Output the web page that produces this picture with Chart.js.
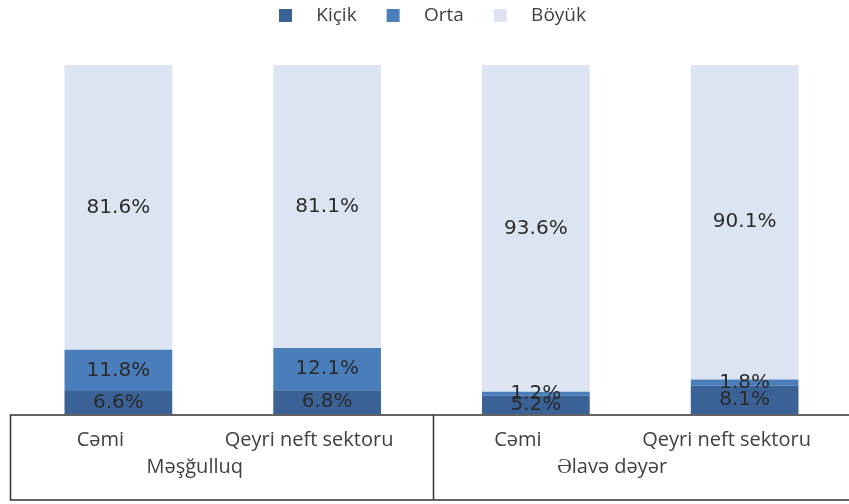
<!DOCTYPE html>
<html>
<head>
<meta charset="utf-8">
<script src="https://cdn.jsdelivr.net/npm/chart.js@4/dist/chart.umd.min.js"></script>
<style>
html,body{margin:0;padding:0;background:#fff;}
#wrap{width:849px;height:504px;position:relative;}
</style>
</head>
<body>
<div id="wrap"><canvas id="c" width="849" height="504"></canvas></div>
<script>
const categories = ["Cəmi", "Qeyri neft sektoru", "Cəmi", "Qeyri neft sektoru"];
const groups = ["Məşğulluq", "Əlavə dəyər"];
const seriesNames = ["Kiçik", "Orta", "Böyük"];
const kicik = [6.6, 6.8, 5.2, 8.1];
const orta = [11.8, 12.1, 1.2, 1.8];
const boyuk = [81.6, 81.1, 93.6, 90.1];
const colors = ["#3a6297", "#4a7ebb", "#dbe4f0"];

const legendMargin = {
  id: 'legendMargin',
  beforeInit(chart) {
    const orig = chart.legend.fit;
    chart.legend.fit = function () {
      orig.bind(chart.legend)();
      this.height += 30;
    };
  }
};

const valueLabels = {
  id: 'valueLabels',
  afterDatasetsDraw(chart) {
    const ctx = chart.ctx;
    ctx.save();
    ctx.font = '20px "DejaVu Sans"';
    ctx.fillStyle = '#2b2b2b';
    ctx.textAlign = 'center';
    ctx.textBaseline = 'middle';
    chart.data.datasets.forEach((ds, di) => {
      const meta = chart.getDatasetMeta(di);
      meta.data.forEach((el, i) => {
        const p = el.getProps(['x', 'y', 'base'], true);
        const cy = (p.y + p.base) / 2;
        ctx.fillText(ds.data[i].toFixed(1) + '%', p.x, cy);
      });
    });
    ctx.restore();
  }
};

const boxPlugin = {
  id: 'boxPlugin',
  afterDraw(chart) {
    const ctx = chart.ctx;
    const ca = chart.chartArea;
    const xs = chart.scales.x;
    const top = ca.bottom + 1;
    const bottom = 500;
    const left = 10.5;
    const right = chart.width + 5;
    const mid = (xs.getPixelForValue(1) + xs.getPixelForValue(2)) / 2 + 2;
    ctx.save();
    ctx.strokeStyle = '#3c3c3c';
    ctx.lineWidth = 1.6;
    ctx.strokeRect(left, top, right - left, bottom - top);
    ctx.beginPath();
    ctx.moveTo(mid, top);
    ctx.lineTo(mid, bottom);
    ctx.stroke();
    ctx.restore();
  }
};

new Chart(document.getElementById('c'), {
  type: 'bar',
  data: {
    labels: categories,
    datasets: [
      { label: seriesNames[0], data: kicik, backgroundColor: colors[0] },
      { label: seriesNames[1], data: orta, backgroundColor: colors[1] },
      { label: seriesNames[2], data: boyuk, backgroundColor: colors[2] }
    ]
  },
  options: {
    responsive: false,
    animation: false,
    devicePixelRatio: 1,
    layout: { padding: { left: 14, right: -2, top: -24, bottom: 0 } },
    datasets: { bar: { barPercentage: 0.516, categoryPercentage: 1.0 } },
    plugins: {
      legend: {
        position: 'top',
        labels: {
          boxWidth: 13, boxHeight: 13, padding: 30,
          color: '#404040',
          font: { family: '"Open Sans"', size: 19 },
          generateLabels(chart) {
            const items = Chart.defaults.plugins.legend.labels.generateLabels(chart);
            items.forEach(it => { it.text = '   ' + it.text; });
            return items;
          }
        }
      },
      tooltip: { enabled: false },
      title: { display: false }
    },
    scales: {
      x: {
        stacked: true,
        position: 'bottom',
        grid: { display: false, drawTicks: false },
        border: { display: false },
        ticks: {
          color: '#404040', padding: 14, labelOffset: -18,
          font: { family: '"Open Sans"', size: 20 }
        },
        afterFit(s) { s.height = 38; }
      },
      g: {
        type: 'category',
        labels: groups,
        position: 'bottom',
        offset: true,
        grid: { display: false, drawTicks: false },
        border: { display: false },
        ticks: {
          color: '#404040', padding: 3, labelOffset: -28,
          font: { family: '"Open Sans"', size: 20 }
        },
        afterFit(s) { s.height = 52; }
      },
      y: {
        stacked: true,
        display: false,
        min: 0, max: 100,
        afterFit(s) { s.width = 0; }
      }
    }
  },
  plugins: [legendMargin, valueLabels, boxPlugin]
});
</script>
</body>
</html>
